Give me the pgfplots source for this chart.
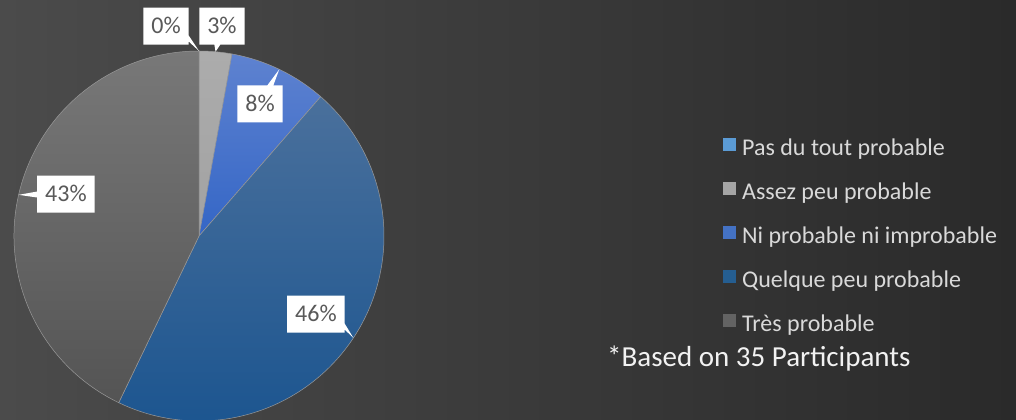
\documentclass[border=0pt]{standalone}
\usepackage{fontspec}
\setmainfont{Carlito}
\usepackage{pgfplots}
\usepackage{pgfplotstable}
\pgfplotsset{compat=1.18}
\usetikzlibrary{shapes.callouts}

\definecolor{bgL}{HTML}{4B4B4B}
\definecolor{bgM}{HTML}{444444}
\definecolor{bgR}{HTML}{2A2A2A}
\definecolor{t0}{HTML}{6AAAE4}\definecolor{b0}{HTML}{4A8AC8}\definecolor{m0}{HTML}{5B9BD5}
\definecolor{t1}{HTML}{ACACAC}\definecolor{b1}{HTML}{A2A2A2}\definecolor{m1}{HTML}{A5A5A5}
\definecolor{t2}{HTML}{5E82D0}\definecolor{b2}{HTML}{3466C6}\definecolor{m2}{HTML}{4472C4}
\definecolor{t3}{HTML}{4A709C}\definecolor{b3}{HTML}{1A548F}\definecolor{m3}{HTML}{255E91}
\definecolor{t4}{HTML}{787878}\definecolor{b4}{HTML}{545454}\definecolor{m4}{HTML}{636363}
\definecolor{lblgray}{HTML}{595959}
\definecolor{legtext}{HTML}{D9D9D9}
\definecolor{foottext}{HTML}{F2F2F2}

\tikzset{lbl/.style={rectangle callout, fill=white, text=lblgray,
    font=\fontsize{24bp}{28bp}\selectfont, inner xsep=8bp, inner ysep=11bp,
    text height=15bp, text depth=0bp, callout pointer width=6bp}}

\pgfplotstableread{
count pct lx ly
0 0 -0.178 1.135
1 3 0.124 1.135
3 8 0.330 0.714
16 46 0.632 -0.422
15 43 -0.719 0.227
}\piedata

\begin{document}
\begin{tikzpicture}
\gdef\total{0}
\foreach \i in {0,...,4}{%
  \pgfplotstablegetelem{\i}{count}\of\piedata
  \pgfmathsetmacro\tmp{\total+\pgfplotsretval}%
  \xdef\total{\tmp}%
}
\gdef\cum{0}
\foreach \i in {0,...,4}{%
  \pgfplotstablegetelem{\i}{count}\of\piedata
  \pgfmathsetmacro\sa{90-360*\cum/\total}%
  \pgfmathsetmacro\newcum{\cum+\pgfplotsretval}%
  \pgfmathsetmacro\ea{90-360*\newcum/\total}%
  \pgfmathsetmacro\ma{(\sa+\ea)/2}%
  \expandafter\xdef\csname sa\i\endcsname{\sa}%
  \expandafter\xdef\csname ea\i\endcsname{\ea}%
  \expandafter\xdef\csname ma\i\endcsname{\ma}%
  \xdef\cum{\newcum}%
  \pgfplotstablegetelem{\i}{pct}\of\piedata
  \expandafter\xdef\csname pct\i\endcsname{\pgfplotsretval}%
  \pgfplotstablegetelem{\i}{lx}\of\piedata
  \expandafter\xdef\csname lx\i\endcsname{\pgfplotsretval}%
  \pgfplotstablegetelem{\i}{ly}\of\piedata
  \expandafter\xdef\csname ly\i\endcsname{\pgfplotsretval}%
}
\begin{axis}[
  x=185bp, y=185bp,
  xmin=-1.07568, xmax=4.41622, ymin=-0.99459, ymax=1.27568,
  hide axis, clip=false,
  legend image code/.code={\fill[#1, draw=none] (0bp,0bp) rectangle (13bp,13bp);},
  legend cell align=left,
  legend style={draw=none, fill=none, inner sep=0pt,
    at={(axis cs:2.8324,0.532)}, anchor=north west,
    font=\fontsize{24bp}{28bp}\selectfont, text=legtext,
    row sep=21bp, column sep=6bp,
    nodes={inner sep=0pt, text height=15bp, text depth=5bp}},
]
\shade[left color=bgL, middle color=bgM, right color=bgR] (rel axis cs:0,0) rectangle (rel axis cs:1,1);
\coordinate (BL) at (rel axis cs:0,0);
\coordinate (TR) at (rel axis cs:1,1);
\pgfplotsinvokeforeach{0,...,4}{
  \shadedraw[top color=t#1, bottom color=b#1, draw=black!40, line width=0.5bp]
    (axis cs:0,0) -- (axis cs:{cos(\csname sa#1\endcsname)},{sin(\csname sa#1\endcsname)})
    arc[start angle=\csname sa#1\endcsname, end angle=\csname ea#1\endcsname, radius=185bp] -- cycle;
}
\pgfplotsinvokeforeach{0,...,4}{
  \node[lbl, callout absolute pointer={(axis cs:{cos(\csname ma#1\endcsname)},{sin(\csname ma#1\endcsname)})}]
    at (axis cs:\csname lx#1\endcsname,\csname ly#1\endcsname) {\csname pct#1\endcsname\%};
}
\addlegendimage{fill=m0}\addlegendentry{Pas du tout probable}
\addlegendimage{fill=m1}\addlegendentry{Assez peu probable}
\addlegendimage{fill=m2}\addlegendentry{Ni probable ni improbable}
\addlegendimage{fill=m3}\addlegendentry{Quelque peu probable}
\addlegendimage{fill=m4}\addlegendentry{Très probable}
\node[anchor=base west, inner sep=0pt, text=foottext, font=\fontsize{29bp}{33bp}\selectfont]
  at (axis cs:2.2054,-0.7081) {*Based on 35 Participants};
\end{axis}
\pgfresetboundingbox
\useasboundingbox (BL) rectangle (TR);
\end{tikzpicture}
\end{document}
